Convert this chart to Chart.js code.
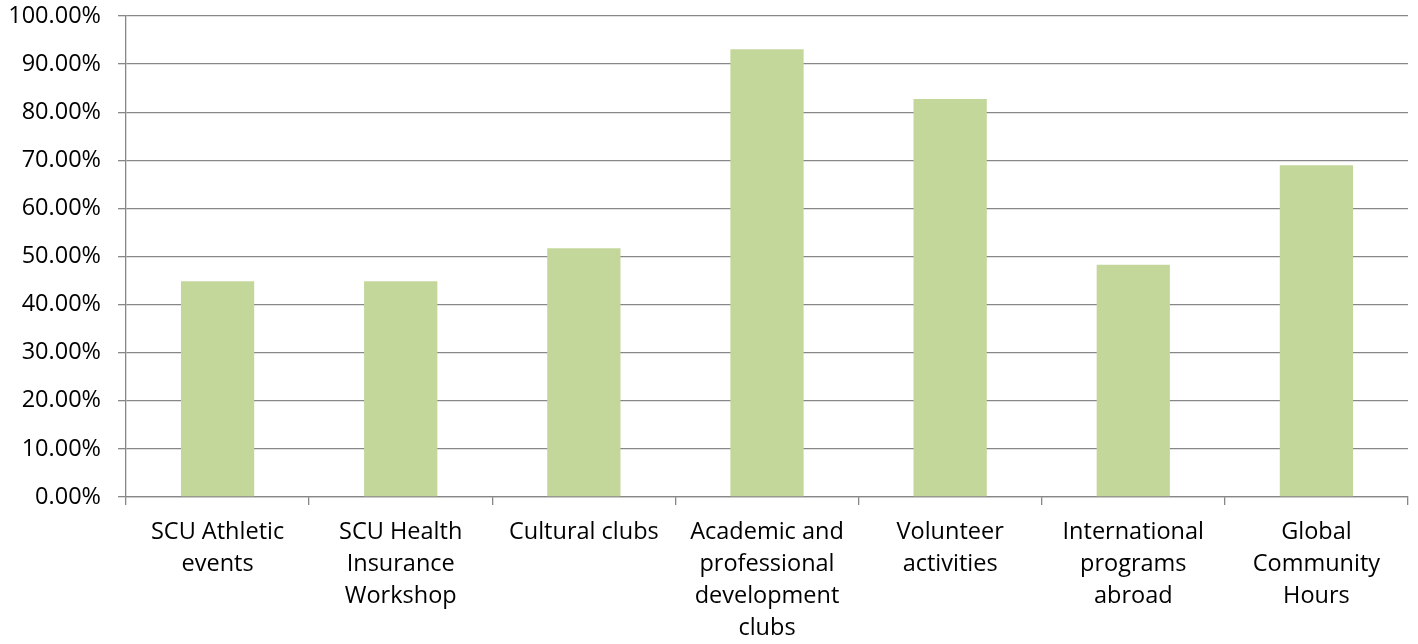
<!DOCTYPE html>
<html>
<head>
<meta charset="utf-8">
<script src="https://cdn.jsdelivr.net/npm/chart.js@4.4.0/dist/chart.umd.min.js"></script>
<style>
  html, body { margin: 0; padding: 0; background: #fff; }
  #wrap { width: 1418px; height: 644px; }
</style>
</head>
<body>
<div id="wrap"><canvas id="barChart"></canvas></div>
<script>
// categories (multi-line labels) and percentages
const categories = [
  ["SCU Athletic", "events"],
  ["SCU Health", "Insurance", "Workshop"],
  ["Cultural clubs"],
  ["Academic and", "professional", "development", "clubs"],
  ["Volunteer", "activities"],
  ["International", "programs", "abroad"],
  ["Global", "Community", "Hours"]
];
const shares = [44.83, 44.83, 51.72, 93.10, 82.76, 48.28, 68.97];

const gridGray = "#878787";
const textColor = "#000000";
const fontFamily = "'Open Sans', 'Liberation Sans', sans-serif";

const ctx = document.getElementById("barChart").getContext("2d");
new Chart(ctx, {
  type: "bar",
  data: {
    labels: categories,
    datasets: [
      {
        data: shares,
        backgroundColor: "#c4d79b",
        borderWidth: 0,
        barPercentage: 0.4,
        categoryPercentage: 1.0
      }
    ]
  },
  options: {
    responsive: true,
    maintainAspectRatio: false,
    animation: false,
    layout: { padding: { left: 9, right: 10, top: 0, bottom: 0 } },
    plugins: {
      legend: { display: false },
      tooltip: { enabled: false }
    },
    scales: {
      x: {
        // axis band: 8px ticks + 11px gap + four 32px lines
        afterFit: (scale) => { scale.height = 147; },
        grid: {
          offset: true,
          drawOnChartArea: false,
          color: gridGray,
          lineWidth: 1.3,
          tickLength: 8
        },
        border: { color: gridGray, width: 1.3 },
        ticks: {
          autoSkip: false,
          maxRotation: 0,
          minRotation: 0,
          padding: 11,
          color: textColor,
          font: { family: fontFamily, size: 23.5, lineHeight: 32 / 23.5 }
        }
      },
      y: {
        min: 0,
        max: 100,
        afterFit: (scale) => {
          scale.width = 117;
          scale.paddingTop = 16;
          scale.paddingBottom = 0;
        },
        grid: {
          color: gridGray,
          lineWidth: 1.3,
          tickLength: 8
        },
        border: { color: gridGray, width: 1.3 },
        ticks: {
          stepSize: 10,
          padding: 17,
          color: textColor,
          font: { family: fontFamily, size: 23.5 },
          callback: (value) => value.toFixed(2) + "%"
        }
      }
    }
  }
});
</script>
</body>
</html>
